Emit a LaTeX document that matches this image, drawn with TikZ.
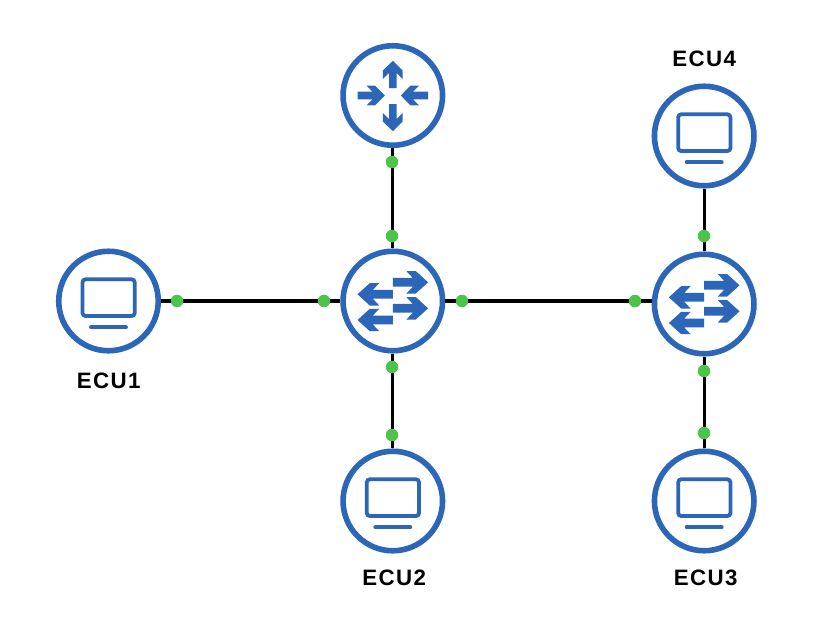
\documentclass[tikz,border=0pt]{standalone}
\usepackage{fontspec}
\setmainfont{Liberation Sans}
\newfontfamily\lab[LetterSpace=6]{Liberation Sans Bold}
\definecolor{ringblue}{HTML}{2C66B8}
\definecolor{dotgreen}{HTML}{4CC44A}
\tikzset{
  x=1pt,y=-1pt,
  ring/.style={circle,draw=ringblue,line width=5.6pt,fill=white,minimum size=99.5pt,inner sep=0pt,outer sep=2.8pt},
  link/.style={draw=black,line width=3.1pt},
  dot/.style={circle,fill=dotgreen,draw=none,minimum size=12.5pt,inner sep=0pt},
  ecu/.style={font=\lab\bfseries\fontsize{22.3}{26}\selectfont,text=black,inner sep=0pt},
  icon/.style={fill=ringblue,draw=none},
  routerarrow/.pic={\fill[icon] (0,0)--(9.9,9.7)--(9.9,18.2)--(3.8,12.2)--(3.8,27.2)--(-3.8,27.2)--(-3.8,12.2)--(-9.9,18.2)--(-9.9,9.7)--cycle;},
  switcharrow/.pic={\fill[icon] (35.3,0)--(23,-11.2)--(13.6,-11.2)--(20,-4.4)--(0,-4.4)--(0,4.4)--(20,4.4)--(13.6,11.2)--(23,11.2)--cycle;},
  monitor/.pic={
    \draw[ringblue,line width=3.8pt,rounded corners=3pt] (-26,-21.7) rectangle (26.2,15);
    \draw[ringblue,line width=3.9pt,line cap=round] (-17.5,26.3)--(17.5,26.3);
  },
  router/.pic={
    \pic at (0,-34.7) {routerarrow};
    \pic[rotate=180] at (0,35.7) {routerarrow};
    \pic[rotate=-90] at (-8,0) {routerarrow};
    \pic[rotate=90] at (8,0) {routerarrow};
  },
  switchicon/.pic={
    \pic at (0,-18.7) {switcharrow};
    \pic at (0,7.3) {switcharrow};
    \pic[rotate=180] at (0,-6.7) {switcharrow};
    \pic[rotate=180] at (0,19) {switcharrow};
  }
}
\begin{document}
\begin{tikzpicture}
\useasboundingbox[fill=white] (0,0) rectangle (834,630);
\node[ring] (ecua) at (108.5,301) {};
\node[ring] (rt) at (392.8,95.5) {};
\node[ring] (swa) at (392.8,301) {};
\node[ring] (ecub) at (392.8,501) {};
\node[ring] (swb) at (704.2,304) {};
\node[ring] (ecud) at (704.2,136) {};
\node[ring] (ecuc) at (704.2,501) {};

\pic at (ecua) {monitor};
\pic at (ecub) {monitor};
\pic at (ecuc) {monitor};
\pic at (ecud) {monitor};
\pic at (rt) {router};
\pic at (swa) {switchicon};
\pic at (swb) {switchicon};

\coordinate (swbw) at (swa.east -| swb.west);
\draw[link] (ecua.east) -- (swa.west);
\draw[link] (swa.east) -- (swbw);
\draw[link] (rt.south) -- (swa.north);
\draw[link] (swa.south) -- (ecub.north);
\draw[link] (ecud.south) -- (swb.north);
\draw[link] (swb.south) -- (ecuc.north);

\node[dot] (d1) at (177,301) {};
\node[dot] (d2) at (324,301) {};
\node[dot] (d3) at (462,301) {};
\node[dot] (d4) at (635,301) {};
\node[dot] (d5) at (392,162) {};
\node[dot] (d6) at (392,236) {};
\node[dot] (d7) at (392,367) {};
\node[dot] (d8) at (392,435) {};
\node[dot] (d9) at (704,236) {};
\node[dot] (d10) at (704,371) {};
\node[dot] (d11) at (704,433) {};

\node[ecu] (la) at (108.7,381) {ECU1};
\node[ecu] (lb) at (394.2,578) {ECU2};
\node[ecu] (lc) at (705.7,578) {ECU3};
\node[ecu] (ld) at (704.2,59) {ECU4};
\end{tikzpicture}
\end{document}
